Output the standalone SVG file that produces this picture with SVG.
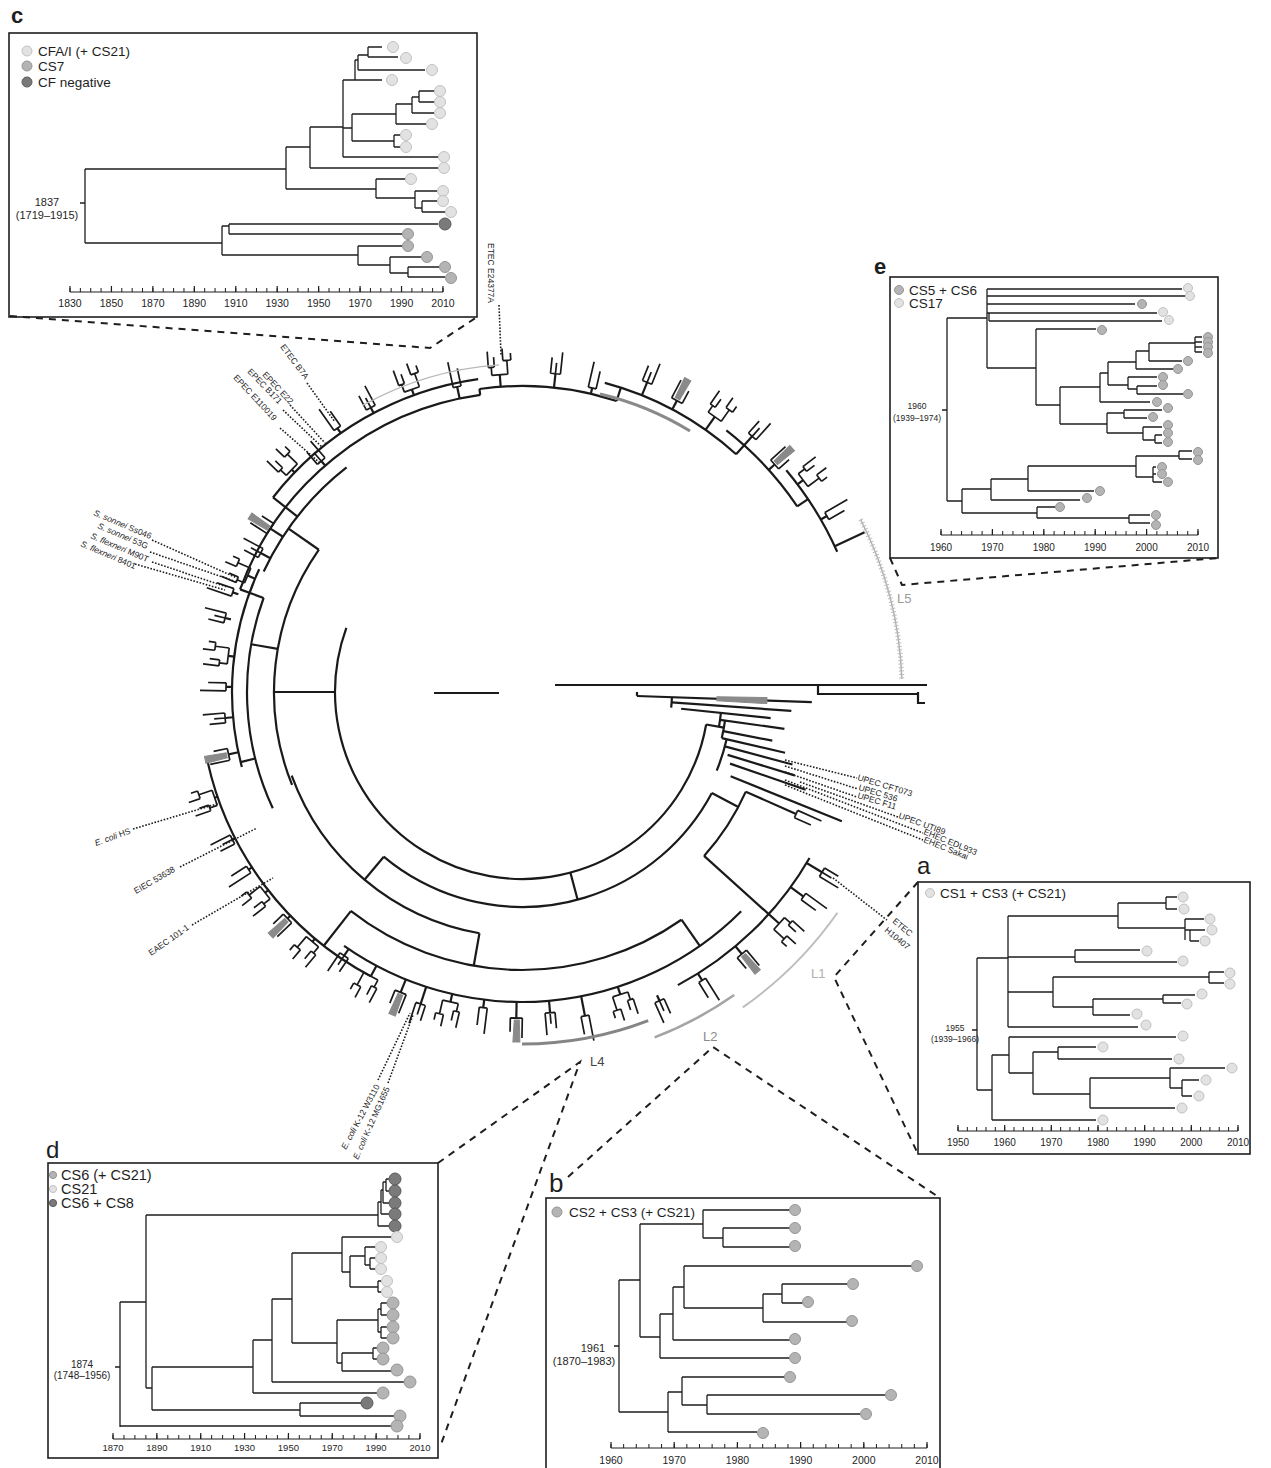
<svg xmlns="http://www.w3.org/2000/svg" width="1271" height="1468" viewBox="0 0 1271 1468">
<style>
text{font-family:"Liberation Sans",Arial,sans-serif;fill:#1e1e1e}
.t{stroke:#1e1e1e;stroke-width:1.3;fill:none}
.ax{stroke:#1e1e1e;stroke-width:1.2;fill:none}
.bx{fill:none;stroke:#1e1e1e;stroke-width:1.6}
.ds{fill:none;stroke:#1e1e1e;stroke-width:2;stroke-dasharray:7 6}
.dt{fill:none;stroke:#1e1e1e;stroke-width:1.6;stroke-dasharray:1.6 1.6}
.ct,.ct path,.ct line,.ct circle{fill:none;stroke:#1a1a1a;stroke-width:2.2}
.cl{fill:#e2e2e2;stroke:#c2c2c2;stroke-width:1}
.cm{fill:#b4b4b4;stroke:#969696;stroke-width:1}
.cd{fill:#7a7a7a;stroke:#5a5a5a;stroke-width:1}
.lab{font-size:22px;font-weight:bold}
.leg{font-size:13.5px}
.tk{font-size:10.5px;text-anchor:middle}
.dl{font-size:10px;text-anchor:middle}
.sl{font-size:8.5px}
.ln{font-size:13px}
</style>
<defs>
<path id="k1" d="M0 -5V5M0 -5H16M0 0H11M0 5H22"/>
<path id="k2" d="M0 -8V8M0 -8H8M8 -11V-5M8 -11H24M8 -5H18M0 8H14M14 4V12M14 4H26M14 12H21"/>
<path id="k3" d="M0 -4V4M0 -4H26M0 4H18"/>
<g id="k4"><path d="M0 -6V6M0 -6H20M0 6H14"/><path d="M2 -3L24 -4L24 3L2 2Z" style="fill:#8a8a8a;stroke:#8a8a8a;stroke-width:1"/></g>
</defs>

<!-- ===== Panel c ===== -->
<g id="panel-c">
<text class="lab" x="11" y="23">c</text>
<rect class="bx" x="9" y="33" width="468" height="284"/>
<circle class="cl" cx="27" cy="51" r="5"/><text class="leg" x="38" y="56">CFA/I (+ CS21)</text>
<circle class="cm" cx="27" cy="66" r="5"/><text class="leg" x="38" y="71">CS7</text>
<circle class="cd" cx="27" cy="82" r="5"/><text class="leg" x="38" y="87">CF negative</text>
<text class="dl" style="font-size:11px" x="47" y="206">1837</text>
<text class="dl" style="font-size:11px" x="47" y="219">(1719–1915)</text>
<path class="t" d="M80 203H85M85 169V243M85 169H286M286 147V189M286 147H310M310 127V168M310 168H438M310 127H343M343 80V157M343 157H438M343 80H382M355 60V80M355 60H358M358 55V70M358 70H425M358 55H368M368 47V57M368 47H382M368 57H398M343 128H352M352 114V141M352 114H396M396 104V124M396 104H412M412 97V113M412 97H419M419 91V102M419 91H434M419 102H434M412 113H434M396 124H426M352 141H394M394 135V147M394 135H400M394 147H400M286 189H376M376 179V198M376 179H405M376 198H415M415 191V208M415 191H437M415 208H422M422 201V212M422 201H437M422 212H445M85 243H222M222 226V255M222 226H229M229 224V234M229 224H438M229 234H402M222 255H358M358 246V265M358 246H402M358 265H390M390 257V273M390 257H421M390 273H408M408 267V277M408 267H439M408 277H445"/>
<g class="cl"><circle cx="393" cy="47" r="5.5"/><circle cx="406" cy="58" r="5.5"/><circle cx="432" cy="70" r="5.5"/><circle cx="392" cy="80" r="5.5"/><circle cx="440" cy="91" r="5.5"/><circle cx="440" cy="102" r="5.5"/><circle cx="440" cy="113" r="5.5"/><circle cx="432" cy="124" r="5.5"/><circle cx="406" cy="135" r="5.5"/><circle cx="406" cy="147" r="5.5"/><circle cx="444" cy="157" r="5.5"/><circle cx="444" cy="168" r="5.5"/><circle cx="411" cy="179" r="5.5"/><circle cx="443" cy="191" r="5.5"/><circle cx="443" cy="201" r="5.5"/><circle cx="451" cy="212" r="5.5"/></g>
<circle class="cd" cx="445" cy="224" r="6"/>
<g class="cm"><circle cx="408" cy="234" r="5.5"/><circle cx="408" cy="246" r="5.5"/><circle cx="427" cy="257" r="5.5"/><circle cx="445" cy="267" r="5.5"/><circle cx="451" cy="278" r="5.5"/></g>
<path class="ax" d="M70 292H443"/>
<line x1="69.5" y1="290" x2="444" y2="290" stroke="#1e1e1e" stroke-width="4" stroke-dasharray="1 9.36"/>
<line x1="69.4" y1="289" x2="444" y2="289" stroke="#1e1e1e" stroke-width="6" stroke-dasharray="1.2 40.24"/>
<g class="tk"><text x="70" y="307">1830</text><text x="111.4" y="307">1850</text><text x="152.9" y="307">1870</text><text x="194.3" y="307">1890</text><text x="235.8" y="307">1910</text><text x="277.2" y="307">1930</text><text x="318.7" y="307">1950</text><text x="360.1" y="307">1970</text><text x="401.6" y="307">1990</text><text x="443" y="307">2010</text></g>
</g>

<!-- ===== Panel e ===== -->
<g id="panel-e">
<text class="lab" x="874" y="274">e</text>
<rect class="bx" x="890" y="277" width="328" height="281"/>
<circle class="cm" cx="899" cy="290" r="4.5"/><text class="leg" x="909" y="295">CS5 + CS6</text>
<circle class="cl" cx="899" cy="303" r="4.5"/><text class="leg" x="909" y="308">CS17</text>
<text class="dl" style="font-size:8.5px" x="917" y="409">1960</text>
<text class="dl" style="font-size:8.5px" x="917" y="421">(1939–1974)</text>
<path class="t" d="M942 410H947M947 318V501M947 318H987M987 289V368M987 289H1182M987 296H1185M987 304H1135M989 313V321M987 313H1157M989 321H1162M987 368H1036M1036 329V405M1036 329H1096M1036 405H1060M1060 387V424M1060 387H1100M1100 373V402M1100 373H1108M1108 362V385M1108 362H1136M1136 351V369M1136 351H1149M1149 343V361M1149 343H1195M1195 337V352M1195 337H1202M1195 342H1202M1195 347H1202M1195 352H1202M1149 361H1182M1136 369H1173M1108 385H1128M1128 377V389M1128 377H1157M1128 389H1137M1137 386V394M1137 386H1157M1137 394H1183M1100 402H1150M1060 424H1107M1107 413V433M1107 413H1124M1124 410V418M1124 410H1162M1124 418H1147M1107 433H1143M1143 427V440M1143 427H1162M1143 440H1155M1155 435V443M1155 435H1162M1155 443H1162M947 501H962M962 489V513M962 489H991M991 479V500M991 479H1028M1028 466V491M1028 466H1136M1136 456V477M1136 456H1179M1179 451V459M1179 451H1192M1179 459H1192M1136 477H1153M1153 467V482M1153 467H1156M1153 474H1156M1153 482H1162M1028 491H1094M991 500H1080M962 513H1037M1037 507V518M1037 507H1055M1037 518H1129M1129 515V523M1129 515H1150M1129 523H1150"/>
<g class="cl"><circle cx="1188" cy="288" r="4.5"/><circle cx="1190" cy="296" r="4.5"/><circle cx="1163" cy="312" r="4.5"/><circle cx="1169" cy="320" r="4.5"/></g>
<g class="cm"><circle cx="1142" cy="304" r="4.5"/><circle cx="1102" cy="330" r="4.5"/><circle cx="1208" cy="337" r="4.5"/><circle cx="1208" cy="342" r="4.5"/><circle cx="1208" cy="347" r="4.5"/><circle cx="1208" cy="353" r="4.5"/><circle cx="1188" cy="361" r="4.5"/><circle cx="1178" cy="369" r="4.5"/><circle cx="1163" cy="377" r="4.5"/><circle cx="1163" cy="385" r="4.5"/><circle cx="1188" cy="394" r="4.5"/><circle cx="1157" cy="402" r="4.5"/><circle cx="1168" cy="408" r="4.5"/><circle cx="1153" cy="417" r="4.5"/><circle cx="1168" cy="425" r="4.5"/><circle cx="1168" cy="433" r="4.5"/><circle cx="1168" cy="442" r="4.5"/><circle cx="1198" cy="452" r="4.5"/><circle cx="1198" cy="460" r="4.5"/><circle cx="1162" cy="467" r="4.5"/><circle cx="1162" cy="474" r="4.5"/><circle cx="1168" cy="482" r="4.5"/><circle cx="1100" cy="491" r="4.5"/><circle cx="1087" cy="498" r="4.5"/><circle cx="1060" cy="507" r="4.5"/><circle cx="1156" cy="515" r="4.5"/><circle cx="1156" cy="525" r="4.5"/></g>
<path class="ax" d="M941 535H1198"/>
<line x1="940.5" y1="533" x2="1199" y2="533" stroke="#1e1e1e" stroke-width="4" stroke-dasharray="1 9.28"/>
<line x1="940.4" y1="532" x2="1199" y2="532" stroke="#1e1e1e" stroke-width="6" stroke-dasharray="1.2 50.2"/>
<g class="tk" style="font-size:10px"><text x="941" y="551">1960</text><text x="992.4" y="551">1970</text><text x="1043.8" y="551">1980</text><text x="1095.2" y="551">1990</text><text x="1146.6" y="551">2000</text><text x="1198" y="551">2010</text></g>
</g>

<!-- ===== Panel a ===== -->
<g id="panel-a">
<text class="lab" style="font-weight:normal;font-size:24px" x="917" y="874">a</text>
<rect class="bx" x="918" y="882" width="332" height="272"/>
<circle class="cl" cx="930" cy="893" r="4.5"/><text class="leg" x="940" y="898">CS1 + CS3 (+ CS21)</text>
<text class="dl" style="font-size:8.5px" x="955" y="1031">1955</text>
<text class="dl" style="font-size:8.5px" x="955" y="1042">(1939–1966)</text>
<path class="t" d="M972 1030H977M977 958V1090M977 958H1008M1008 916V1027M1008 916H1118M1118 903V928M1118 903H1166M1166 897V909M1166 897H1177M1166 909H1177M1118 928H1185M1185 919V940M1185 919H1204M1185 930H1190M1190 930V941M1190 930H1205M1190 941H1199M1008 957H1075M1075 950V962M1075 950H1140M1075 962H1177M1008 992H1053M1053 977V1007M1053 977H1209M1209 972V983M1209 972H1224M1209 983H1224M1053 1007H1093M1093 999V1015M1093 999H1163M1163 995V1003M1163 995H1195M1163 1003H1181M1093 1015H1130M1008 1027H1138M977 1090H992M992 1055V1120M992 1055H1009M1009 1037V1073M1009 1037H1176M1009 1073H1033M1033 1052V1094M1033 1052H1058M1058 1047V1059M1058 1047H1096M1058 1059H1172M1033 1094H1090M1090 1078V1108M1090 1078H1170M1170 1068V1088M1170 1068H1225M1170 1088H1182M1182 1080V1096M1182 1080H1199M1182 1096H1192M1090 1108H1175M992 1120H1096"/>
<g class="cl"><circle cx="1183" cy="897" r="5"/><circle cx="1184" cy="909" r="5"/><circle cx="1210" cy="919" r="5"/><circle cx="1212" cy="930" r="5"/><circle cx="1205" cy="941" r="5"/><circle cx="1147" cy="951" r="5"/><circle cx="1183" cy="961" r="5"/><circle cx="1230" cy="973" r="5"/><circle cx="1230" cy="984" r="5"/><circle cx="1202" cy="994" r="5"/><circle cx="1187" cy="1004" r="5"/><circle cx="1137" cy="1014" r="5"/><circle cx="1146" cy="1025" r="5"/><circle cx="1183" cy="1036" r="5"/><circle cx="1103" cy="1047" r="5"/><circle cx="1179" cy="1059" r="5"/><circle cx="1232" cy="1068" r="5"/><circle cx="1206" cy="1080" r="5"/><circle cx="1199" cy="1096" r="5"/><circle cx="1182" cy="1108" r="5"/><circle cx="1103" cy="1120" r="5"/></g>
<path class="ax" d="M958 1131H1238"/>
<line x1="957.5" y1="1129" x2="1239" y2="1129" stroke="#1e1e1e" stroke-width="4" stroke-dasharray="1 8.33"/>
<line x1="957.4" y1="1128" x2="1239" y2="1128" stroke="#1e1e1e" stroke-width="6" stroke-dasharray="1.2 45.47"/>
<g class="tk" style="font-size:10px"><text x="958" y="1146">1950</text><text x="1004.7" y="1146">1960</text><text x="1051.3" y="1146">1970</text><text x="1098" y="1146">1980</text><text x="1144.7" y="1146">1990</text><text x="1191.3" y="1146">2000</text><text x="1238" y="1146">2010</text></g>
</g>

<!-- ===== Panel d ===== -->
<g id="panel-d">
<text class="lab" style="font-weight:normal;font-size:24px" x="46" y="1158">d</text>
<rect class="bx" x="48" y="1163" width="390" height="295"/>
<circle class="cm" cx="53" cy="1175" r="3.6"/><text class="leg" style="font-size:14.5px" x="61" y="1180">CS6 (+ CS21)</text>
<circle class="cl" cx="53" cy="1189" r="3.6"/><text class="leg" style="font-size:14.5px" x="61" y="1194">CS21</text>
<circle class="cd" cx="53" cy="1203" r="3.6"/><text class="leg" style="font-size:14.5px" x="61" y="1208">CS6 + CS8</text>
<text class="dl" x="82" y="1368">1874</text>
<text class="dl" x="82" y="1379">(1748–1956)</text>
<path class="t" d="M115 1367H120M120 1302V1427M120 1426H392M120 1302H146M146 1215V1388M146 1215H378M378 1202V1226M378 1226H389M378 1202H381M381 1190V1214M381 1214H389M381 1190H383M383 1182V1203M383 1203H389M383 1182H386M386 1179V1191M386 1179H389M386 1191H389M146 1388H152M152 1367V1410M152 1367H253M253 1340V1393M253 1340H272M272 1299V1382M272 1299H292M292 1253V1343M292 1253H342M342 1237V1272M342 1237H391M342 1272H350M350 1256V1287M350 1256H365M365 1247V1265M365 1247H375M365 1265H370M370 1258V1269M370 1258H375M370 1269H375M350 1287H378M378 1281V1292M378 1281H381M378 1292H381M292 1343H337M337 1320V1363M337 1320H378M378 1309V1332M378 1309H381M381 1303V1315M381 1303H387M381 1315H387M378 1332H381M381 1327V1338M381 1327H387M381 1338H387M337 1363H342M342 1353V1371M342 1353H373M373 1348V1359M373 1348H377M373 1359H377M342 1371H391M272 1382H404M253 1393H377M152 1410H300M300 1403V1416M300 1403H361M300 1416H394"/>
<g class="cd"><circle cx="395" cy="1179" r="6"/><circle cx="395" cy="1191" r="6"/><circle cx="395" cy="1203" r="6"/><circle cx="395" cy="1214" r="6"/><circle cx="395" cy="1226" r="6"/><circle cx="367" cy="1403" r="6"/></g>
<g class="cl"><circle cx="397" cy="1237" r="5.5"/><circle cx="381" cy="1247" r="5.5"/><circle cx="381" cy="1258" r="5.5"/><circle cx="381" cy="1269" r="5.5"/><circle cx="387" cy="1281" r="5.5"/><circle cx="387" cy="1292" r="5.5"/></g>
<g class="cm"><circle cx="393" cy="1303" r="6"/><circle cx="393" cy="1315" r="6"/><circle cx="393" cy="1327" r="6"/><circle cx="393" cy="1338" r="6"/><circle cx="383" cy="1348" r="6"/><circle cx="383" cy="1359" r="6"/><circle cx="397" cy="1370" r="6"/><circle cx="410" cy="1382" r="6"/><circle cx="383" cy="1393" r="6"/><circle cx="400" cy="1416" r="6"/><circle cx="397" cy="1426" r="6"/></g>
<path class="ax" d="M113 1439H420"/>
<line x1="112.5" y1="1437" x2="421" y2="1437" stroke="#1e1e1e" stroke-width="4" stroke-dasharray="1 9.96"/>
<line x1="112.4" y1="1436" x2="421" y2="1436" stroke="#1e1e1e" stroke-width="6" stroke-dasharray="1.2 42.66"/>
<g class="tk" style="font-size:9.5px"><text x="113" y="1451">1870</text><text x="156.9" y="1451">1890</text><text x="200.7" y="1451">1910</text><text x="244.6" y="1451">1930</text><text x="288.4" y="1451">1950</text><text x="332.3" y="1451">1970</text><text x="376.1" y="1451">1990</text><text x="420" y="1451">2010</text></g>
</g>

<!-- ===== Panel b ===== -->
<g id="panel-b">
<text class="lab" style="font-weight:normal;font-size:26px" x="549" y="1192">b</text>
<rect class="bx" x="546" y="1198" width="394" height="280"/>
<circle class="cm" cx="557" cy="1212" r="5"/><text class="leg" x="569" y="1217">CS2 + CS3 (+ CS21)</text>
<text class="dl" style="font-size:11px" x="593" y="1352">1961</text>
<text class="dl" style="font-size:11px" x="584" y="1365">(1870–1983)</text>
<path class="t" d="M614 1346H619M619 1280V1412M619 1280H640M640 1224V1337M640 1224H703M703 1210V1238M703 1210H790M703 1238H723M723 1228V1247M723 1228H790M723 1247H790M640 1337H660M660 1314V1358M660 1314H673M673 1287V1340M673 1287H684M684 1266V1308M684 1266H911M684 1308H763M763 1294V1322M763 1294H782M782 1284V1303M782 1284H847M782 1303H803M763 1322H847M673 1340H790M660 1358H790M619 1412H668M668 1392V1432M668 1392H682M682 1377V1405M682 1377H785M682 1405H707M707 1395V1414M707 1395H885M707 1414H860M668 1432H757"/>
<g class="cm"><circle cx="795" cy="1210" r="5.5"/><circle cx="795" cy="1228" r="5.5"/><circle cx="795" cy="1246" r="5.5"/><circle cx="917" cy="1266" r="5.5"/><circle cx="853" cy="1284" r="5.5"/><circle cx="808" cy="1302" r="5.5"/><circle cx="852" cy="1321" r="5.5"/><circle cx="795" cy="1339" r="5.5"/><circle cx="795" cy="1358" r="5.5"/><circle cx="790" cy="1377" r="5.5"/><circle cx="891" cy="1395" r="5.5"/><circle cx="866" cy="1414" r="5.5"/><circle cx="763" cy="1433" r="5.5"/></g>
<path class="ax" d="M611 1448H927"/>
<line x1="610.5" y1="1446" x2="928" y2="1446" stroke="#1e1e1e" stroke-width="4" stroke-dasharray="1 11.64"/>
<line x1="610.4" y1="1445" x2="928" y2="1445" stroke="#1e1e1e" stroke-width="6" stroke-dasharray="1.2 62"/>
<g class="tk"><text x="611" y="1464">1960</text><text x="674.2" y="1464">1970</text><text x="737.4" y="1464">1980</text><text x="800.6" y="1464">1990</text><text x="863.8" y="1464">2000</text><text x="927" y="1464">2010</text></g>
</g>

<!-- ===== Circular tree ===== -->
<g id="circular-tree" class="ct">
<path d="M434 693H499M555 685H927M818 685V694H918M918 692V703H925"/>
<g transform="translate(522 692)">
<circle r="187" stroke-dasharray="620.1 3000" transform="rotate(10)"/>
<circle r="215" stroke-dasharray="382.8 3000" transform="rotate(28)"/>
<circle r="245" stroke-dasharray="77 3000" transform="rotate(24)"/>
<circle r="245" stroke-dasharray="256.6 3000" transform="rotate(100)"/>
<circle r="278" stroke-dasharray="354.2 3000" transform="rotate(55)"/>
<circle r="248" stroke-dasharray="246.7 3000" transform="rotate(158)"/>
<circle r="275" stroke-dasharray="216 3000" transform="rotate(155)"/>
<circle r="300" stroke-dasharray="324.6 3000" transform="rotate(200)"/>
<circle r="306" stroke-dasharray="138.9 3000" transform="rotate(262)"/>
<circle r="320" stroke-dasharray="150.8 3000" transform="rotate(285)"/>
<circle r="332" stroke-dasharray="104.3 3000" transform="rotate(308)"/>
<circle r="345" stroke-dasharray="96.4 3000" transform="rotate(320)"/>
<circle r="310" stroke-dasharray="432.8 3000" transform="rotate(45)"/>
<circle r="322" stroke-dasharray="281 3000" transform="rotate(118)"/>
<circle r="290" stroke-dasharray="202.5 3000" transform="rotate(165)"/>
<circle r="332" stroke-dasharray="185.4 3000" transform="rotate(30)"/>
<circle r="316" stroke-dasharray="242.7 3000" transform="rotate(218)"/>
<circle r="285" stroke-dasharray="134.3 3000" transform="rotate(205)"/>
<circle r="115" stroke-dasharray="4 3000" transform="rotate(0)"/>
<circle r="150" stroke-dasharray="10.5 3000" transform="rotate(2)"/>
<circle r="200" stroke-dasharray="14 3000" transform="rotate(6)"/>
<circle r="205" stroke-dasharray="17.9 3000" transform="rotate(8)"/>
<circle r="210" stroke-dasharray="33 3000" transform="rotate(13)"/>
<path d="M187 0H205" transform="rotate(10)"/>
<path d="M187 0H215" transform="rotate(75)"/>
<path d="M215 0H245" transform="rotate(28)"/>
<path d="M245 0H300" transform="rotate(24)"/>
<path d="M245 0H332" transform="rotate(42)"/>
<path d="M215 0H245" transform="rotate(130)"/>
<path d="M245 0H278" transform="rotate(100)"/>
<path d="M278 0H310" transform="rotate(55)"/>
<path d="M278 0H322" transform="rotate(128)"/>
<path d="M187 0H248" transform="rotate(180)"/>
<path d="M248 0H285" transform="rotate(215)"/>
<path d="M248 0H275" transform="rotate(190)"/>
<path d="M275 0H290" transform="rotate(166)"/>
<path d="M275 0H300" transform="rotate(200)"/>
<path d="M285 0H316" transform="rotate(218)"/>
<path d="M300 0H306" transform="rotate(262)"/>
<path d="M306 0H320" transform="rotate(288)"/>
<path d="M320 0H332" transform="rotate(312)"/>
<path d="M332 0H345" transform="rotate(326)"/>
<path d="M345 0H378" transform="rotate(335)"/>
<path d="M115 0H290" transform="rotate(2)"/>
<path d="M150 0H270" transform="rotate(4)"/>
<path d="M160 0H250" transform="rotate(6)"/>
<path d="M200 0H265" transform="rotate(8)"/>
<path d="M205 0H255" transform="rotate(11)"/>
<path d="M205 0H270" transform="rotate(13)"/>
<path d="M210 0H280" transform="rotate(15)"/>
<path d="M215 0H285" transform="rotate(17)"/>
<path d="M220 0H300" transform="rotate(19)"/>
<path d="M225 0H345" transform="rotate(22)"/>
<path d="M195 -2L245 -3L245 3L195 2Z" transform="rotate(2)" style="fill:#8a8a8a;stroke:#8a8a8a;stroke-width:1"/>
<g style="stroke-width:1.7">
<g transform="rotate(24)"><use href="#k3" x="300"/></g>
<g transform="rotate(266)"><path d="M306 0H318"/><use href="#k2" x="318"/></g>
<g transform="rotate(276)"><path d="M306 0H320"/><use href="#k1" x="320"/></g>
<g transform="rotate(283)"><path d="M306 0H312"/><use href="#k3" x="312"/></g>
<g transform="rotate(292)"><path d="M320 0H334"/><use href="#k1" x="334"/></g>
<g transform="rotate(298)"><path d="M320 0H330"/><use href="#k4" x="330"/></g>
<g transform="rotate(305)"><path d="M320 0H336"/><use href="#k2" x="336"/></g>
<g transform="rotate(312)"><path d="M332 0H344"/><use href="#k1" x="344"/></g>
<g transform="rotate(318)"><path d="M332 0H340"/><use href="#k4" x="340"/></g>
<g transform="rotate(323)"><path d="M345 0H352"/><use href="#k2" x="352"/></g>
<g transform="rotate(330)"><path d="M345 0H352"/><use href="#k3" x="352"/></g>
<g transform="rotate(258)"><path d="M300 0H312"/><use href="#k3" x="312"/></g>
<g transform="rotate(250)"><path d="M316 0H322"/><use href="#k2" x="322"/></g>
<g transform="rotate(242)"><path d="M316 0H322"/><use href="#k1" x="322"/></g>
<g transform="rotate(235)"><path d="M316 0H322"/><use href="#k3" x="322"/></g>
<g transform="rotate(229)"><path d="M300 0H306"/><use href="#k1" x="306"/></g>
<g transform="rotate(224)"><path d="M316 0H320"/><use href="#k2" x="320"/></g>
<g transform="rotate(213)"><path d="M285 0H300"/><use href="#k4" x="300"/></g>
<g transform="rotate(208)"><path d="M285 0H296"/><use href="#k1" x="296"/></g>
<g transform="rotate(203)"><path d="M290 0H298"/><use href="#k2" x="298"/></g>
<g transform="rotate(199)"><path d="M300 0H306"/><use href="#k3" x="306"/></g>
<g transform="rotate(194)"><path d="M300 0H306"/><use href="#k1" x="306"/></g>
<g transform="rotate(187)"><path d="M290 0H296"/><use href="#k2" x="296"/></g>
<g transform="rotate(181)"><path d="M290 0H296"/><use href="#k3" x="296"/></g>
<g transform="rotate(175)"><path d="M290 0H298"/><use href="#k1" x="298"/></g>
<g transform="rotate(168)"><path d="M290 0H300"/><use href="#k4" x="300"/></g>
<g transform="rotate(161)"><path d="M322 0H325"/><use href="#k2" x="325"/></g>
<g transform="rotate(153)"><path d="M322 0H325"/><use href="#k1" x="325"/></g>
<g transform="rotate(147)"><path d="M322 0H326"/><use href="#k3" x="326"/></g>
<g transform="rotate(142)"><path d="M322 0H326"/><use href="#k2" x="326"/></g>
<g transform="rotate(136)"><path d="M322 0H326"/><use href="#k4" x="326"/></g>
<g transform="rotate(130)"><path d="M322 0H326"/><use href="#k2" x="326"/></g>
<g transform="rotate(124)"><path d="M310 0H318"/><use href="#k1" x="318"/></g>
<g transform="rotate(118)"><path d="M310 0H322"/><use href="#k2" x="322"/></g>
<g transform="rotate(112)"><path d="M310 0H324"/><use href="#k4" x="324"/></g>
<g transform="rotate(108)"><path d="M310 0H328"/><use href="#k1" x="328"/></g>
<g transform="rotate(103)"><path d="M310 0H318"/><use href="#k2" x="318"/></g>
<g transform="rotate(97)"><path d="M310 0H318"/><use href="#k3" x="318"/></g>
<g transform="rotate(91)"><path d="M310 0H326"/><use href="#k4" x="326"/></g>
<g transform="rotate(85)"><path d="M310 0H322"/><use href="#k1" x="322"/></g>
<g transform="rotate(79)"><path d="M310 0H330"/><use href="#k3" x="330"/></g>
<g transform="rotate(72)"><path d="M310 0H318"/><use href="#k2" x="318"/></g>
<g transform="rotate(66)"><path d="M332 0H338"/><use href="#k1" x="338"/></g>
<g transform="rotate(58)"><path d="M332 0H340"/><use href="#k3" x="340"/></g>
<g transform="rotate(50)"><path d="M332 0H342"/><use href="#k4" x="342"/></g>
<g transform="rotate(42)"><path d="M332 0H346"/><use href="#k2" x="346"/></g>
<g transform="rotate(36)"><path d="M332 0H348"/><use href="#k3" x="348"/></g>
<g transform="rotate(31)"><path d="M332 0H350"/><use href="#k1" x="350"/></g>
</g>
</g>
<path d="M860.6 519.5A380 380 0 0 1 901.8 678.7" style="stroke:#b0b0b0;stroke-width:1.5"/>
<path d="M860.6 519.5A380 380 0 0 1 901.8 678.7" style="stroke:#bcbcbc;stroke-width:5;stroke-dasharray:1 2.5"/>
<path d="M837.4 912.8A385 385 0 0 1 742.8 1007.4" style="stroke:#bdbdbd;stroke-width:2"/>
<path d="M734.2 995.1A370 370 0 0 1 654.6 1037.4" style="stroke:#a4a4a4;stroke-width:2.5"/>
<path d="M648.2 1020.6A352 352 0 0 1 522 1044" style="stroke:#858585;stroke-width:3"/>
<path d="M363 405.1A328 328 0 0 1 499.1 364.8" style="stroke:#b8b8b8;stroke-width:1.3"/>
<path d="M600 394A306 306 0 0 1 690 431" style="stroke:#8a8a8a;stroke-width:3.2"/>
</g>

<!-- ===== Lineage labels ===== -->
<g id="lineage-labels" class="ln">
<text x="897" y="603" style="fill:#9a9a9a">L5</text>
<text x="811" y="978" style="fill:#b0b0b0">L1</text>
<text x="703" y="1041" style="fill:#8a8a8a">L2</text>
<text x="590" y="1066" style="fill:#444">L4</text>
</g>

<!-- ===== Strain labels ===== -->
<g id="strain-labels" class="sl">
<text transform="translate(488,243) rotate(90)">ETEC E24377A</text>
<text transform="translate(280,347) rotate(53)">ETEC B7A</text>
<text transform="translate(262,375) rotate(47)">EPEC E22</text>
<text transform="translate(247,372) rotate(46)">EPEC B171</text>
<text transform="translate(233,378) rotate(47)">EPEC E110019</text>
<text transform="translate(93,515) rotate(23)"><tspan font-style="italic">S. sonnei</tspan> Ss046</text>
<text transform="translate(97,528) rotate(23)"><tspan font-style="italic">S. sonnei</tspan> 53G</text>
<text transform="translate(90,538) rotate(23)"><tspan font-style="italic">S. flexneri</tspan> M90T</text>
<text transform="translate(80,546) rotate(23)"><tspan font-style="italic">S. flexneri</tspan> 8401</text>
<text transform="translate(96,846) rotate(-20)"><tspan font-style="italic">E. coli</tspan> HS</text>
<text transform="translate(136,894) rotate(-30)">EIEC 53638</text>
<text transform="translate(151,956) rotate(-35)">EAEC 101-1</text>
<text transform="translate(346,1150) rotate(-62)"><tspan font-style="italic">E. coli</tspan> K-12 W3110</text>
<text transform="translate(358,1160) rotate(-66)"><tspan font-style="italic">E. coli</tspan> K-12 MG1655</text>
<text transform="translate(857,780) rotate(17)">UPEC CFT073</text>
<text transform="translate(858,790) rotate(17)">UPEC 536</text>
<text transform="translate(857,798) rotate(17)">UPEC F11</text>
<text transform="translate(898,818) rotate(20)">UPEC UTI89</text>
<text transform="translate(923,834) rotate(22)">EHEC EDL933</text>
<text transform="translate(923,842) rotate(22)">EHEC Sakai</text>
<text transform="translate(892,922) rotate(40)">ETEC</text>
<text transform="translate(884,931) rotate(40)">H10407</text>
</g>

<!-- ===== Connectors ===== -->
<g id="connectors">
<path class="dt" d="M499 305L501 355M307 383L335 422M290 405L325 443M283 410L322 447M280 428L320 463M152 540L237 578M150 552L237 582M152 562L227 587M135 564L225 590M133 829L220 803M180 867L257 828M192 925L273 878M378 1080L410 1013M388 1083L413 1015M785 760L857 778M785 766L858 789M785 772L857 797M800 782L898 817M785 780L923 833M785 785L923 840M833 878L887 920"/>
<path class="ds" d="M10 316L430 348L477 317M890 558L902 585L1218 558M918 882L834 977L918 1154M568 1177L713 1047L940 1198M438 1163L580 1062L440 1447"/>
</g>
</svg>
